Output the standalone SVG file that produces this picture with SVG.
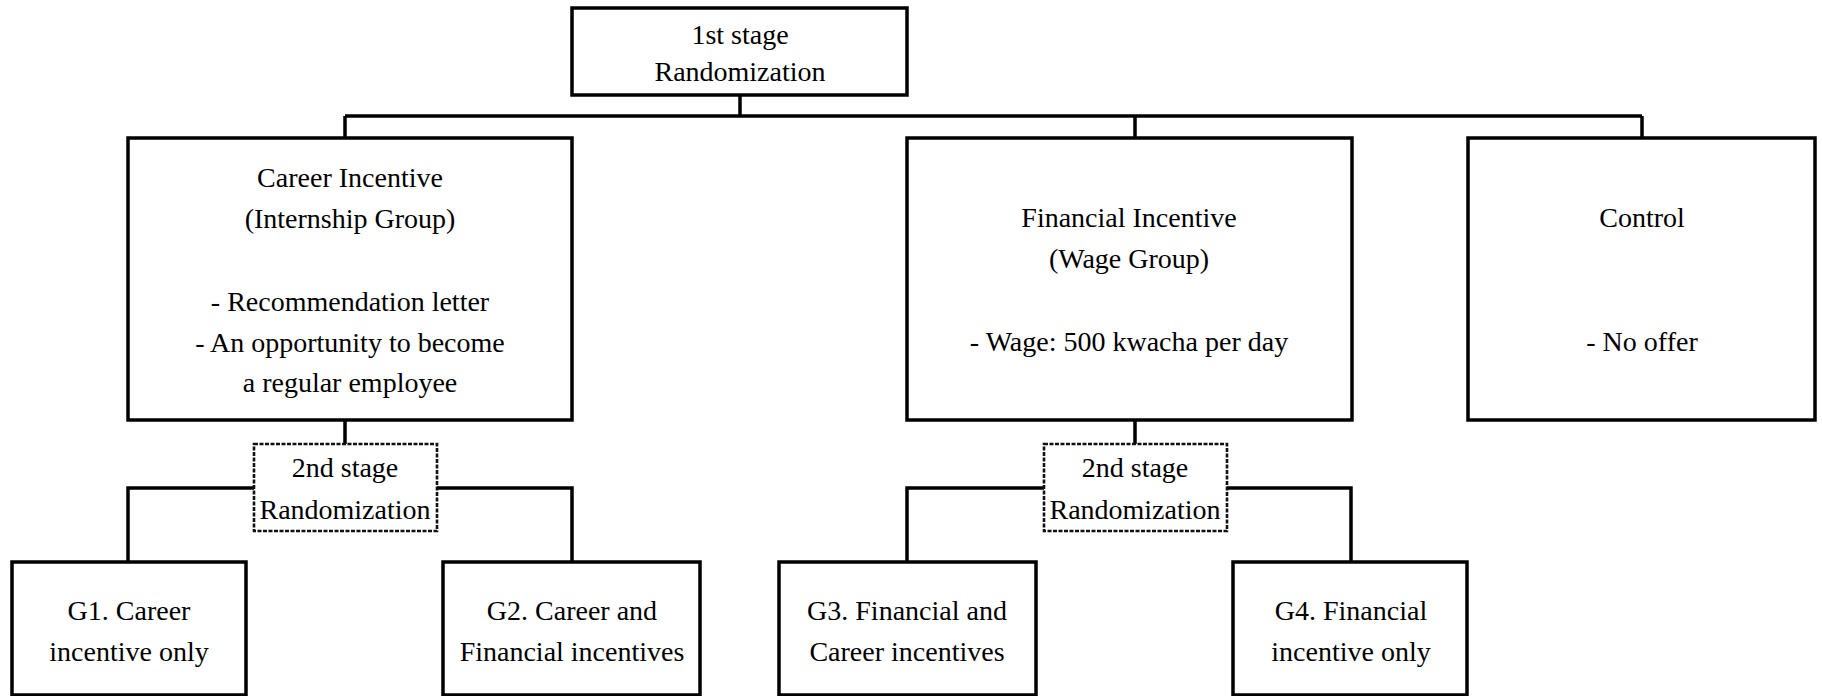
<svg xmlns="http://www.w3.org/2000/svg" width="1822" height="696" viewBox="0 0 1822 696">
<style>
.box{fill:#fff;stroke:#000;stroke-width:3.5}
.dbox{fill:#fff;stroke:#111;stroke-width:2.6;stroke-dasharray:4 1.5}
.conn{fill:none;stroke:#000;stroke-width:3.5}
text{font-family:"Liberation Serif","Times New Roman",serif;font-size:28px;fill:#000;text-anchor:middle}
</style>
<rect width="1822" height="696" fill="#fff"/>
<g id="connectors">
<path class="conn" d="M740 95V116M345 116H1642M345 116V138M1135 116V138M1642 116V138"/>
<path class="conn" d="M345 420V444M128 562V488H572V562"/>
<path class="conn" d="M1135 420V444M907 562V488H1351V562"/>
</g>
<g id="stage1">
<rect class="box" x="572" y="8" width="335" height="87"/>
<text x="740" y="44">1st stage</text>
<text x="740" y="81">Randomization</text>
</g>
<g id="career">
<rect class="box" x="128" y="138" width="444" height="282"/>
<text x="350" y="187">Career Incentive</text>
<text x="350" y="228">(Internship Group)</text>
<text x="350" y="311">- Recommendation letter</text>
<text x="350" y="352">- An opportunity to become</text>
<text x="350" y="392">a regular employee</text>
</g>
<g id="financial">
<rect class="box" x="907" y="138" width="445" height="282"/>
<text x="1129" y="227">Financial Incentive</text>
<text x="1129" y="268">(Wage Group)</text>
<text x="1129" y="351">- Wage: 500 kwacha per day</text>
</g>
<g id="control">
<rect class="box" x="1468" y="138" width="347" height="282"/>
<text x="1642" y="227">Control</text>
<text x="1642" y="351">- No offer</text>
</g>
<g id="stage2a">
<rect class="dbox" x="254" y="444" width="183" height="87"/>
<text x="345" y="477">2nd stage</text>
<text x="345" y="519">Randomization</text>
</g>
<g id="stage2b">
<rect class="dbox" x="1044" y="444" width="183" height="87"/>
<text x="1135" y="477">2nd stage</text>
<text x="1135" y="519">Randomization</text>
</g>
<g id="g1">
<rect class="box" x="12" y="562" width="234" height="133"/>
<text x="129" y="620">G1. Career</text>
<text x="129" y="661">incentive only</text>
</g>
<g id="g2">
<rect class="box" x="443" y="562" width="257" height="133"/>
<text x="572" y="620">G2. Career and</text>
<text x="572" y="661">Financial incentives</text>
</g>
<g id="g3">
<rect class="box" x="779" y="562" width="257" height="133"/>
<text x="907" y="620">G3. Financial and</text>
<text x="907" y="661">Career incentives</text>
</g>
<g id="g4">
<rect class="box" x="1233" y="562" width="234" height="133"/>
<text x="1351" y="620">G4. Financial</text>
<text x="1351" y="661">incentive only</text>
</g>
</svg>
